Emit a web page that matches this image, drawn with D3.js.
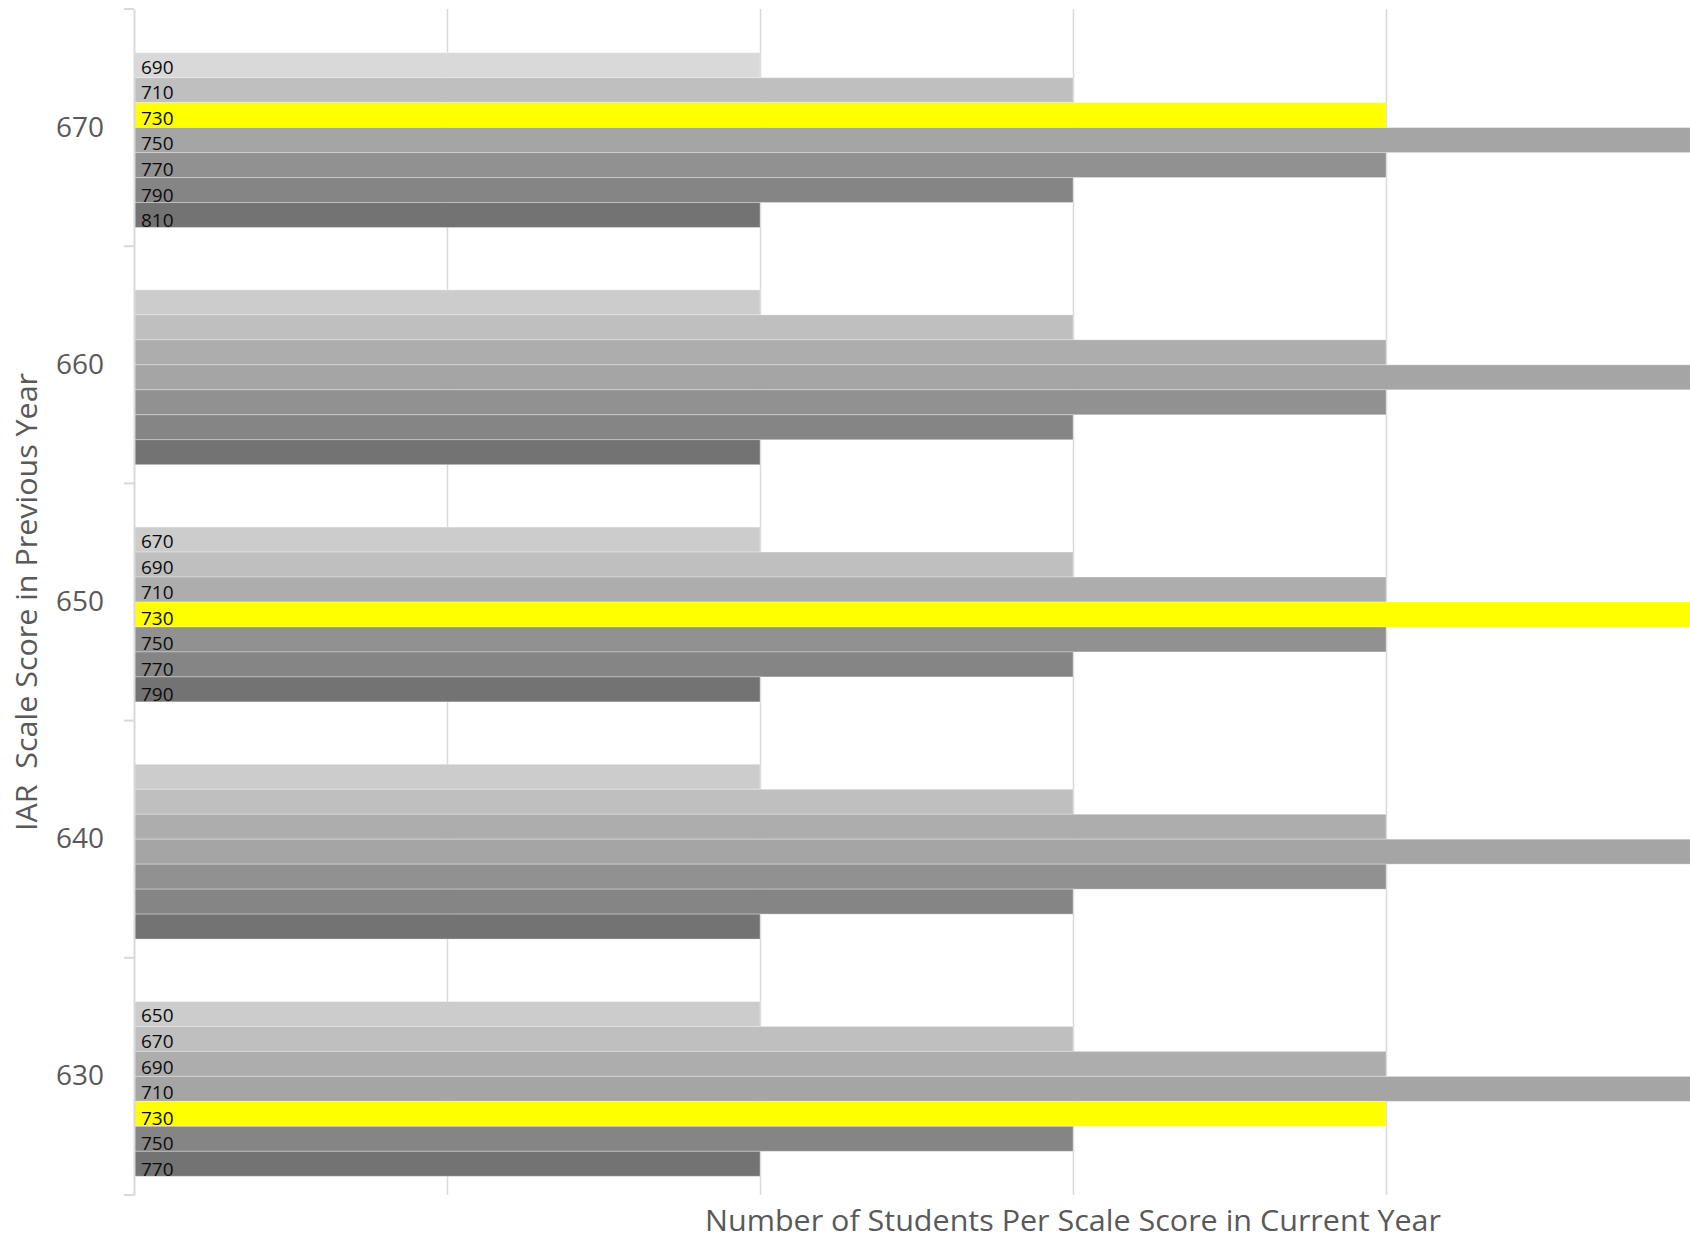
<!DOCTYPE html>
<html>
<head>
<meta charset="utf-8">
<script src="https://cdn.jsdelivr.net/npm/d3@7"></script>
<style>
  body { margin: 0; background: #fff; }
  svg { display: block; font-family: "Open Sans", sans-serif; }
  text { white-space: pre; }
</style>
</head>
<body>
<svg width="1690" height="1240"></svg>
<script>
// previous-year score groups, top to bottom
const categories = ['670', '660', '650', '640', '630']

// seven series, top bar of each group first (one value per group)
const seriesValues = [
  [2, 2, 2, 2, 2],
  [3, 3, 3, 3, 3],
  [4, 4, 4, 4, 4],
  [5, 5, 5, 5, 5],
  [4, 4, 4, 4, 4],
  [3, 3, 3, 3, 3],
  [2, 2, 2, 2, 2]
]

// data labels (current-year scale score) per group, null = no labels
const pointLabels = {
  '670': ['690', '710', '730', '750', '770', '790', '810'],
  '660': null,
  '650': ['670', '690', '710', '730', '750', '770', '790'],
  '640': null,
  '630': ['650', '670', '690', '710', '730', '750', '770']
}

const seriesColors = ['#cccccc', '#bfbfbf', '#adadad', '#a5a5a5', '#919191', '#858585', '#737373']
const highlightScore = '730'
const xTicks = [1, 2, 3, 4, 5]

const svg = d3.select('svg')
const margin = {left: 134, top: 9, bottom: 45}
const height = +svg.attr('height')
const innerHeight = height - margin.top - margin.bottom

const xScale = d3.scaleLinear()
  .domain([0, 5])
  .range([0, 1565])

const yScale = d3.scaleBand()
  .domain(categories)
  .range([0, innerHeight])

// 8 slots per group, the top one is an empty series
const slots = ['empty'].concat(d3.range(seriesValues.length))
const inner = d3.scaleBand()
  .domain(slots)
  .range([0, yScale.bandwidth()])
  .paddingOuter(0.75)

const g = svg.append('g')
  .attr('transform', `translate(${margin.left}, ${margin.top})`)

// gridlines
g.append('g')
  .call(d3.axisBottom(xScale).tickValues(xTicks).tickSize(innerHeight).tickFormat(''))
  .call(a => a.select('.domain').remove())
  .call(a => a.selectAll('line').attr('stroke', '#d9d9d9').attr('stroke-width', 1.5))

const bars = []
categories.forEach((c, ci) => {
  seriesValues.forEach((vals, si) => {
    const labels = pointLabels[c]
    const label = labels ? labels[si] : null
    let color = seriesColors[si]
    if (c === '670' && si === 0) color = '#d9d9d9'
    if (label === highlightScore) color = '#ffff00'
    bars.push({cat: c, s: si, value: vals[ci], label, color})
  })
})

g.selectAll('rect.bar')
  .data(bars)
  .enter()
  .append('rect')
  .attr('class', 'bar')
  .attr('x', xScale(0))
  .attr('y', d => yScale(d.cat) + inner(d.s))
  .attr('width', d => xScale(d.value) - xScale(0))
  .attr('height', inner.bandwidth())
  .attr('fill', d => d.color)
  .attr('stroke', 'rgba(255,255,255,0.3)')
  .attr('stroke-width', 1)

g.selectAll('text.lbl')
  .data(bars.filter(d => d.label))
  .enter()
  .append('text')
  .attr('class', 'lbl')
  .attr('x', xScale(0) + 7)
  .attr('y', d => yScale(d.cat) + inner(d.s) + inner.bandwidth() - 4 + d.s * 0.6)
  .attr('font-size', 19)
  .attr('fill', '#0d0d0d')
  .text(d => d.label)

// y axis: line, boundary ticks, centred labels
const yAxis = g.append('g')
  .call(d3.axisLeft(yScale).tickSize(0).tickPadding(30))
yAxis.select('.domain').attr('stroke', '#d9d9d9').attr('stroke-width', 2)
yAxis.selectAll('text').attr('font-size', 28).attr('fill', '#595959')
  .attr('font-family', '"Open Sans", sans-serif')

const bounds = categories.map(c => yScale(c)).concat([innerHeight])
g.selectAll('line.bt')
  .data(bounds)
  .enter()
  .append('line')
  .attr('class', 'bt')
  .attr('x1', -10).attr('x2', 0)
  .attr('y1', d => d).attr('y2', d => d)
  .attr('stroke', '#d9d9d9').attr('stroke-width', 2)

// axis titles
svg.append('text')
  .attr('x', 1073)
  .attr('y', 1231)
  .attr('text-anchor', 'middle')
  .attr('font-size', 30)
  .attr('fill', '#595959')
  .attr('textLength', 736)
  .attr('lengthAdjust', 'spacingAndGlyphs')
  .text('Number of Students Per Scale Score in Current Year')

svg.append('text')
  .attr('transform', 'translate(37, 602) rotate(-90)')
  .attr('text-anchor', 'middle')
  .attr('font-size', 29)
  .attr('fill', '#595959')
  .attr('textLength', 458)
  .attr('lengthAdjust', 'spacingAndGlyphs')
  .text('IAR  Scale Score in Previous Year')
</script>
</body>
</html>
